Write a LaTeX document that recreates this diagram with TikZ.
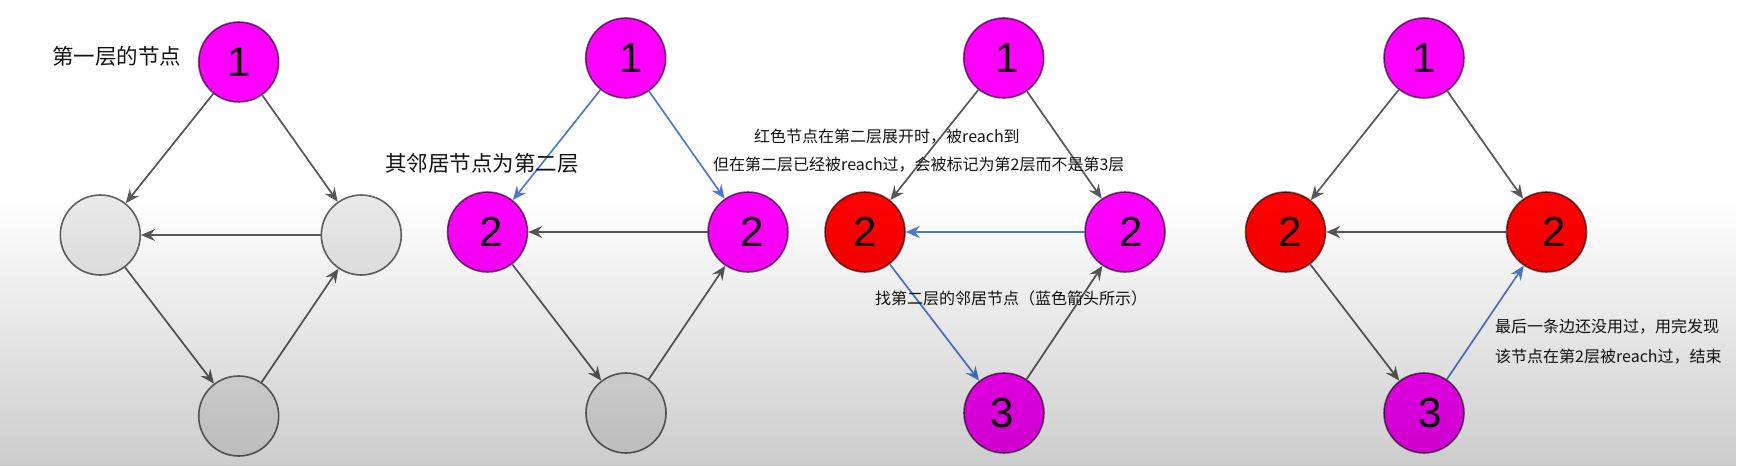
\documentclass[tikz,border=0pt]{standalone}
\usepackage{fontspec}
\newfontfamily\cjk{Noto Sans CJK SC}
\newfontfamily\numf{Liberation Sans}
\usetikzlibrary{arrows.meta,fadings}
\tikzfading[name=fadedown, top color=transparent!100, bottom color=transparent!80]
\definecolor{edgegray}{HTML}{585858}
\definecolor{edgeblue}{HTML}{4A7BD0}
\definecolor{nodegray}{HTML}{E9E9E9}
\definecolor{nodemag}{HTML}{FF00FF}
\definecolor{nodered}{HTML}{FF0000}
\definecolor{txtc}{HTML}{141414}
\begin{document}
\begin{tikzpicture}[x=1pt,y=-1pt,
  vtx/.style={circle, minimum size=80pt, inner sep=0pt, draw=black, draw opacity=.6, line width=1.6pt},
  gv/.style={vtx, fill=nodegray},
  mv/.style={vtx, fill=nodemag},
  rv/.style={vtx, fill=nodered},
  lab/.style={font=\numf\fontsize{42}{42}\selectfont, text=black, inner sep=0pt},
  gedge/.style={draw=edgegray, line width=1.7pt, -{Stealth[length=14pt,width=12pt,inset=5pt]}},
  bedge/.style={draw=edgeblue, line width=1.7pt, -{Stealth[length=14pt,width=12pt,inset=5pt]}},
  bigtxt/.style={font=\cjk\fontsize{21.5}{21.5}\selectfont, anchor=west, inner sep=0pt, text=txtc},
  smalltxt/.style={font=\cjk\fontsize{16}{16}\selectfont, anchor=west, inner sep=0pt, text=txtc}
]
\useasboundingbox (0,0) rectangle (1743,466);
\fill[white] (0,0) rectangle (1743,466);

% ---- graph 1
\node[mv, label={[lab]center:1}] (a1) at (238.7,62) {};
\node[gv] (a2) at (100.3,235) {};
\node[gv] (a3) at (361.3,235) {};
\node[gv] (a4) at (238.7,416) {};
\draw[gedge] (a1) -- (a2);
\draw[gedge] (a1) -- (a3);
\draw[gedge] (a3) -- (a2);
\draw[gedge] (a2) -- (a4);
\draw[gedge] (a4) -- (a3);
\node[bigtxt] (ta) at (52,56) {第一层的节点};

% ---- graph 2
\node[mv, label={[lab,xshift=5pt]center:1}] (b1) at (625.7,58) {};
\node[mv, label={[lab,xshift=4pt]center:2}] (b2) at (487.5,232) {};
\node[mv, label={[lab,xshift=4pt]center:2}] (b3) at (748,232) {};
\node[gv] (b4) at (626,413) {};
\draw[bedge] (b1) -- (b2);
\draw[bedge] (b1) -- (b3);
\draw[gedge] (b3) -- (b2);
\draw[gedge] (b2) -- (b4);
\draw[gedge] (b4) -- (b3);
\node[bigtxt] (tb) at (385,163) {其邻居节点为第二层};

% ---- graph 3
\node[mv, label={[lab,xshift=3pt]center:1}] (c1) at (1003.7,58) {};
\node[rv, label={[lab]center:2}] (c2) at (865,232) {};
\node[mv, label={[lab,xshift=6pt]center:2}] (c3) at (1125,232) {};
\node[mv, label={[lab,xshift=-2pt]center:3}] (c4) at (1004,413) {};
\draw[gedge] (c1) -- (c2);
\draw[gedge] (c1) -- (c3);
\draw[bedge] (c3) -- (c2);
\draw[bedge] (c2) -- (c4);
\draw[gedge] (c4) -- (c3);
\node[smalltxt] (tc1) at (754,137) {红色节点在第二层展开时，被reach到};
\node[smalltxt] (tc2) at (713,165) {但在第二层已经被reach过，会被标记为第2层而不是第3层};
\node[smalltxt] (tc3) at (875,298) {找第二层的邻居节点（蓝色箭头所示）};

% ---- graph 4
\node[mv, label={[lab]center:1}] (d1) at (1424,58) {};
\node[rv, label={[lab,xshift=5pt]center:2}] (d2) at (1285.5,232) {};
\node[rv, label={[lab,xshift=8pt]center:2}] (d3) at (1546.5,232) {};
\node[mv, label={[lab,xshift=6pt]center:3}] (d4) at (1424,413) {};
\draw[gedge] (d1) -- (d2);
\draw[gedge] (d1) -- (d3);
\draw[gedge] (d3) -- (d2);
\draw[gedge] (d2) -- (d4);
\draw[bedge] (d4) -- (d3);
\node[smalltxt] (td1) at (1495,327) {最后一条边还没用过，用完发现};
\node[smalltxt] (td2) at (1495,357) {该节点在第2层被reach过，结束};

% ---- darkening gradient of the lower part
\fill[black, path fading=fadedown] (0,200) rectangle (1743,466);
\end{tikzpicture}
\end{document}
